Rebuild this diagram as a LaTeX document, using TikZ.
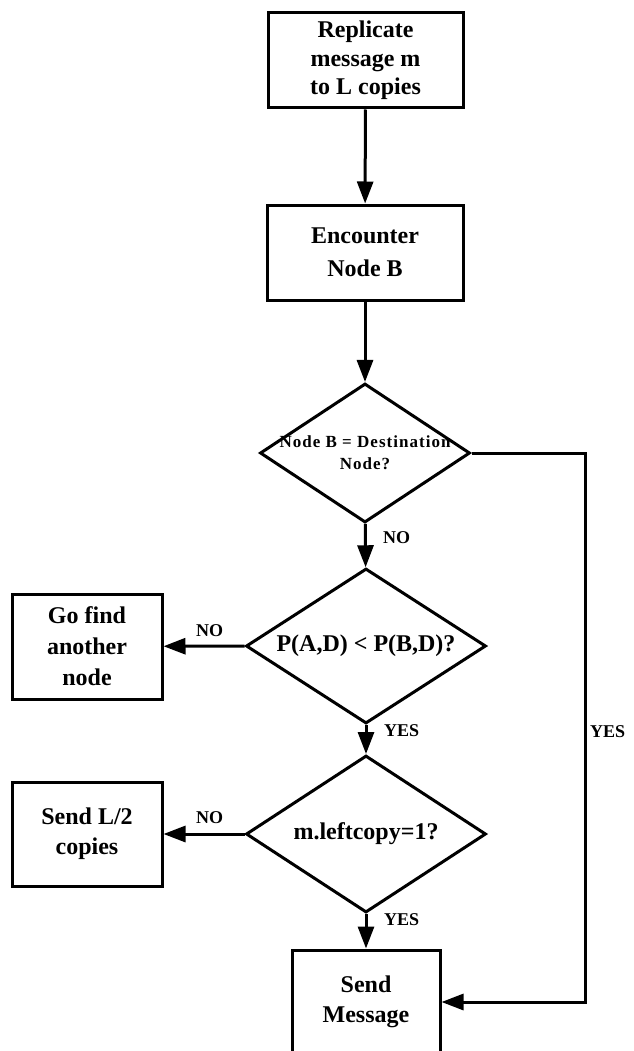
\documentclass[tikz,border=0pt]{standalone}
\usepackage{fontspec}
\setmainfont{Liberation Serif}
\usetikzlibrary{arrows.meta,shapes.geometric}
\begin{document}
\begin{tikzpicture}[x=1pt,y=-1pt,
  box/.style={draw,line width=3pt,rectangle,inner sep=0pt,align=center,font=\bfseries\fontsize{24}{30}\selectfont},
  dia/.style={draw,line width=3pt,diamond,inner sep=0pt},
  dtext/.style={align=center,font=\bfseries\fontsize{24}{30}\selectfont},
  lab/.style={font=\bfseries\fontsize{18}{20}\selectfont,inner sep=0pt},
  arr/.style={line width=3pt,-{Triangle[length=22pt,width=16pt]}},
  ln/.style={line width=3pt}]
\clip (0,0) rectangle (633,1051);
\fill[white] (0,0) rectangle (633,1051);
\node[box,minimum width=195,minimum height=95,font=\bfseries\fontsize{24}{28.5}\selectfont] (b1) at (365.5,60.5) {Replicate\\message m\\to L copies};
\node[box,minimum width=196,minimum height=95,font=\bfseries\fontsize{24}{33}\selectfont] (b2) at (365,252.5) {Encounter\\Node B};
\node[dia,minimum width=210,minimum height=139,
  label={[align=center,font=\bfseries\fontsize{17}{22}\selectfont\addfontfeature{LetterSpace=6}]center:{Node B = Destination\\Node?}}] (d1) at (365,453) {};
\node[dia,minimum width=240,minimum height=155,
  label={[dtext]center:{P(A,D) < P(B,D)?}}] (d2) at (366,646) {};
\node[dia,minimum width=240,minimum height=157,
  label={[dtext]center:{m.leftcopy=1?}}] (d3) at (366,834) {};
\node[box,minimum width=150,minimum height=105,font=\bfseries\fontsize{24}{31}\selectfont] (g) at (87,646.5) {Go find\\another\\node};
\node[box,minimum width=150,minimum height=104] (s) at (87,834) {Send L/2\\copies};
\node[box,minimum width=148,minimum height=104] (m) at (366,1002) {Send\\Message};
\coordinate (c1) at (585,453);
\coordinate (c2) at (585,1002);
\draw[arr] (b1) -- (b2);
\draw[arr] (b2) -- (d1);
\draw[arr] (d1) -- (d2);
\draw[arr] (d2) -- (d3);
\draw[arr] (d3) -- (m);
\draw[arr] (d2.west) -- (g);
\draw[arr] (d3.west) -- (s);
\draw[arr] (d1.east) -- (c1) -- (c2) -- (m.east);
\node[lab,anchor=west] (n1) at (383,538) {NO};
\node[lab,anchor=west] (y1) at (384,731) {YES};
\node[lab,anchor=west] (y2) at (384,920) {YES};
\node[lab,anchor=west] (n2) at (196,631) {NO};
\node[lab,anchor=west] (n3) at (196,818) {NO};
\node[lab,anchor=west] (y3) at (590,732) {YES};
\end{tikzpicture}
\end{document}
